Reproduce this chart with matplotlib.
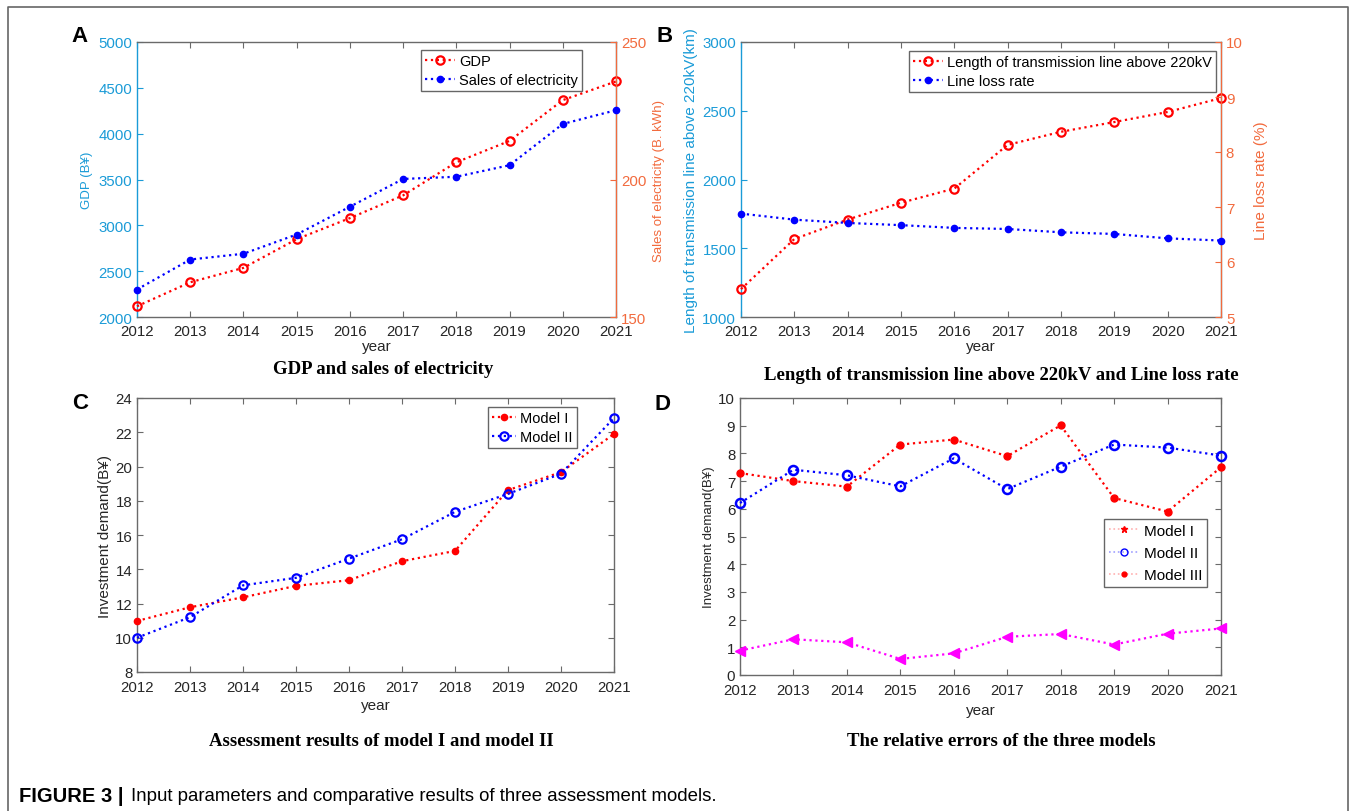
import matplotlib
matplotlib.use('Agg')
import matplotlib.pyplot as plt
from matplotlib.lines import Line2D

# ---------------- data ----------------
years = list(range(2012, 2022))
gdp = [2117, 2379, 2536, 2849, 3079, 3327, 3688, 3921, 4366, 4570]
sales = [160.0, 170.9, 173.0, 180.0, 190.1, 200.2, 201.0, 205.2, 220.2, 225.2]
line_len = [1203, 1567, 1709, 1831, 1934, 2252, 2347, 2418, 2491, 2592]
loss_rate = [6.88, 6.77, 6.71, 6.67, 6.62, 6.60, 6.54, 6.51, 6.43, 6.39]
c_model1 = [10.98, 11.78, 12.36, 13.03, 13.36, 14.47, 15.07, 18.62, 19.67, 21.90]
c_model2 = [10.00, 11.20, 13.06, 13.50, 14.62, 15.75, 17.35, 18.40, 19.58, 22.83]
d_model1 = [0.88, 1.29, 1.18, 0.58, 0.78, 1.38, 1.48, 1.10, 1.49, 1.68]
d_model2 = [6.21, 7.41, 7.21, 6.81, 7.82, 6.71, 7.52, 8.32, 8.21, 7.92]
d_model3 = [7.29, 7.00, 6.80, 8.32, 8.50, 7.90, 9.01, 6.39, 5.90, 7.50]

W, H = 1356, 812
plt.rcParams['font.family'] = ['Liberation Sans', 'DejaVu Sans']
fig = plt.figure(figsize=(W / 100, H / 100), dpi=100)

BLUE_AX = '#1a9bd7'
ORANGE = '#f26a3d'
SPINE = '#6a6a6a'
TICKC = '#262626'
TLS = 10.8


def fx(x):
    return x / W


def fy(y):
    return 1 - y / H


def rect(l, t, r, b):
    return [fx(l), fy(b), fx(r) - fx(l), fy(t) - fy(b)]


def base_style(ax, xlabelpad=3, xpad=6):
    ax.set_xlim(2012, 2021)
    ax.set_xticks(years)
    for s in ax.spines.values():
        s.set_color(SPINE)
        s.set_linewidth(1.0)
    ax.tick_params(direction='in', length=4, width=0.8, labelsize=TLS,
                   colors=SPINE, labelcolor=TICKC, top=True)
    ax.tick_params(axis='x', pad=xpad)
    ax.set_xlabel('year', fontsize=11, color=TICKC, labelpad=xlabelpad)


def legend_at(ax, handles, labels, l, t, fs=10.5, hl=2.0, ls=0.3):
    leg = ax.legend(handles, labels, loc='upper left',
                    bbox_to_anchor=(fx(l), fy(t)), bbox_transform=fig.transFigure,
                    borderaxespad=0, fancybox=False, framealpha=1, edgecolor='#666666',
                    fontsize=fs, handlelength=hl, handletextpad=0.3,
                    borderpad=0.3, labelspacing=ls)
    leg.get_frame().set_linewidth(1.0)
    return leg


# ---------------- Panel A ----------------
axA = fig.add_axes(rect(137, 43, 616, 318))
base_style(axA, xlabelpad=1, xpad=5)
axA.set_ylim(2000, 5000)
axA.set_yticks(range(2000, 5001, 500))
axA.tick_params(axis='y', colors=BLUE_AX, labelcolor=BLUE_AX, right=False)
axA.spines['left'].set_color(BLUE_AX)
axA.set_ylabel('GDP (B¥)', color=BLUE_AX, fontsize=9.5, labelpad=4)
axA2 = axA.twinx()
axA2.set_ylim(150, 250)
axA2.set_yticks([150, 200, 250])
axA2.tick_params(direction='in', length=4, colors=ORANGE, labelcolor=ORANGE, labelsize=TLS)
axA2.spines['right'].set_color(ORANGE)
for k in ('top', 'bottom', 'left'):
    axA2.spines[k].set_visible(False)
axA2.set_ylabel('Sales of electricity (B. kWh)', color=ORANGE, fontsize=9.5, labelpad=5)
h1, = axA.plot(years, gdp, ':', color='red', marker='o', mfc='none', mec='red',
               ms=6, mew=1.6, lw=1.6, clip_on=False, zorder=3)
h2, = axA2.plot(years, sales, ':', color='blue', marker='o', mfc='blue', mec='blue',
                ms=4.5, lw=1.6, clip_on=False, zorder=3)
legend_at(axA2, [h1, h2], ['GDP', 'Sales of electricity'], 421, 51)

# ---------------- Panel B ----------------
axB = fig.add_axes(rect(741, 43, 1221, 318))
base_style(axB, xlabelpad=1, xpad=5)
axB.set_ylim(1000, 3000)
axB.set_yticks(range(1000, 3001, 500))
axB.tick_params(axis='y', colors=BLUE_AX, labelcolor=BLUE_AX, right=False)
axB.spines['left'].set_color(BLUE_AX)
axB.set_ylabel('Length of transmission line above 220kV(km)', color=BLUE_AX,
               fontsize=11, labelpad=3)
axB2 = axB.twinx()
axB2.set_ylim(5, 10)
axB2.set_yticks(range(5, 11))
axB2.tick_params(direction='in', length=4, colors=ORANGE, labelcolor=ORANGE, labelsize=TLS)
axB2.spines['right'].set_color(ORANGE)
for k in ('top', 'bottom', 'left'):
    axB2.spines[k].set_visible(False)
axB2.set_ylabel('Line loss rate (%)', color=ORANGE, fontsize=11, labelpad=8)
g1, = axB.plot(years, line_len, ':', color='red', marker='o', mfc='none', mec='red',
               ms=6, mew=1.6, lw=1.6, clip_on=False, zorder=3)
g2, = axB2.plot(years, loss_rate, ':', color='blue', marker='o', mfc='blue', mec='blue',
                ms=4.5, lw=1.6, clip_on=False, zorder=3)
legend_at(axB2, [g1, g2], ['Length of transmission line above 220kV', 'Line loss rate'], 909, 52)

# ---------------- Panel C ----------------
axC = fig.add_axes(rect(137, 399, 614, 673))
base_style(axC, xlabelpad=3)
axC.set_ylim(8, 24)
axC.set_yticks(range(8, 25, 2))
axC.tick_params(axis='y', right=True)
axC.set_ylabel('Investment demand(B¥)', fontsize=11, color=TICKC, labelpad=2)
k1, = axC.plot(years, c_model1, ':', color='red', marker='o', mfc='red', mec='red',
               ms=4.5, lw=1.6, clip_on=False, zorder=3)
k2, = axC.plot(years, c_model2, ':', color='blue', marker='o', mfc='none', mec='blue',
               ms=6, mew=1.6, lw=1.6, clip_on=False, zorder=3)
legend_at(axC, [k1, k2], ['Model I', 'Model II'], 488, 408, fs=10.5, hl=1.6)

# ---------------- Panel D ----------------
axD = fig.add_axes(rect(740, 399, 1221, 676))
base_style(axD, xlabelpad=4)
axD.set_ylim(0, 10)
axD.set_yticks(range(0, 11))
axD.tick_params(axis='y', right=True)
axD.set_ylabel('Investment demand(B¥)', fontsize=9.5, color=TICKC, labelpad=2)
axD.plot(years, d_model3, ':', color='red', marker='o', mfc='red', mec='red',
         ms=5, lw=1.6, clip_on=False, zorder=3)
axD.plot(years, d_model2, ':', color='blue', marker='o', mfc='none', mec='blue',
         ms=6.5, mew=1.8, lw=1.6, clip_on=False, zorder=3)
axD.plot(years, d_model1, ':', color='magenta', marker='<', mfc='magenta', mec='magenta',
         ms=7, lw=1.6, clip_on=False, zorder=3)
lh = [Line2D([], [], ls=':', color='#ffb0b0', marker='*', mfc='red', mec='red', ms=5, lw=1.2),
      Line2D([], [], ls=':', color='#a0a0ff', marker='o', mfc='none', mec='blue', ms=5, lw=1.2),
      Line2D([], [], ls=':', color='#ffb0b0', marker='o', mfc='red', mec='red', ms=3.5, lw=1.2)]
legD = legend_at(axD, lh, ['Model I', 'Model II', 'Model III'], 1104, 520, fs=11, ls=0.55)
legD.set_zorder(5)

# ---------------- titles / letters / caption ----------------
serif = ['Liberation Serif', 'DejaVu Serif']
fig.text(fx(383), fy(370), 'GDP and sales of electricity', ha='center', va='center',
         family=serif, fontweight='bold', fontsize=13.5)
fig.text(fx(1001), fy(375), 'Length of transmission line above 220kV and Line loss rate',
         ha='center', va='center', family=serif, fontweight='bold', fontsize=13.5)
fig.text(fx(381), fy(742), 'Assessment results of model I and model II', ha='center',
         va='center', family=serif, fontweight='bold', fontsize=13.5)
fig.text(fx(1001), fy(742), 'The relative errors of the three models', ha='center',
         va='center', family=serif, fontweight='bold', fontsize=13.5)

for letter, x, y in [('A', 80, 36), ('B', 665, 36), ('C', 80, 404), ('D', 662, 405)]:
    fig.text(fx(x), fy(y), letter, ha='center', va='center', fontsize=16, fontweight='bold')

fig.text(fx(19), fy(797), 'FIGURE 3 |', ha='left', va='center', fontsize=14.5,
         fontweight='bold')
fig.text(fx(131), fy(797), 'Input parameters and comparative results of three assessment models.',
         ha='left', va='center', fontsize=13.4)

# outer frame
fig.add_artist(Line2D([fx(8), fx(8), fx(1348), fx(1348)], [0, fy(8), fy(8), 0],
                      color='#666666', lw=1.2, transform=fig.transFigure))

fig.savefig('out.png', dpi=100)
